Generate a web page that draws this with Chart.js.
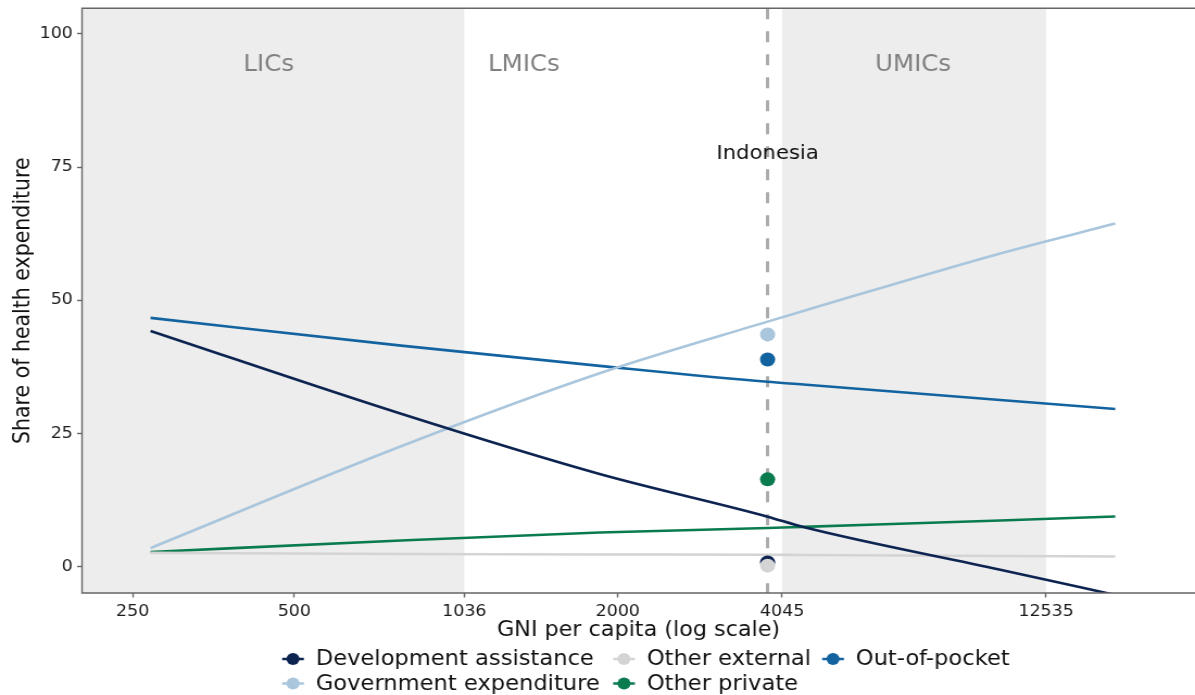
<!DOCTYPE html>
<html>
<head>
<meta charset="utf-8">
<script src="https://cdn.jsdelivr.net/npm/chart.js@4.4.1/dist/chart.umd.min.js"></script>
<style>
  html, body { margin: 0; padding: 0; background: #fff; overflow: hidden; }
  #wrap { width: 1100px; height: 695px; transform: scaleX(1.08636); transform-origin: 0 0; }
</style>
</head>
<body>
<div id="wrap"><canvas id="chart" width="1100" height="695"></canvas></div>
<script>
// Fitted health-financing shares along GNI per capita (US$, log scale)
const gniPoints = [270, 790, 1850, 3800, 4430, 10300, 16860];

const seriesNames = [
  'Development assistance',
  'Government expenditure',
  'Other external',
  'Other private',
  'Out-of-pocket'
];
const seriesColors = ['#0d2451', '#aac6dc', '#d4d4d4', '#0a7b4f', '#1363a0'];

const developmentAssistance = [44.25, 28.7, 17.4, 9.4, 7.45, -0.56, -5.3];
const governmentExpenditure = [3.5, 22.6, 36.3, 46.0, 48.0, 58.8, 64.4];
const otherExternal         = [2.6, 2.4, 2.3, 2.25, 2.2, 2.0, 1.93];
const otherPrivate          = [2.76, 4.93, 6.43, 7.26, 7.48, 8.68, 9.43];
const outOfPocket           = [46.7, 41.5, 37.7, 34.7, 34.2, 31.3, 29.6];
const fittedSeries = [developmentAssistance, governmentExpenditure, otherExternal, otherPrivate, outOfPocket];

// Indonesia
const countryName = 'Indonesia';
const countryGni = 3800;
const countryShares = [0.8, 43.6, 0.2, 16.4, 38.9];

// Axis ticks and income-group thresholds
const xTicks = [250, 500, 1036, 2000, 4045, 12535];
const yTicks = [0, 25, 50, 75, 100];
const incomeThresholds = [1036, 4045, 12535];
const groupLabels = ['LICs', 'LMICs', 'UMICs'];
const groupLabelGni = [448, 1337, 7090];

const FONT = "'DejaVu Sans', 'Liberation Sans', sans-serif";

const lineDatasets = seriesNames.map((name, i) => ({
  label: name,
  data: gniPoints.map((g, k) => ({ x: g, y: fittedSeries[i][k] })),
  borderColor: seriesColors[i],
  backgroundColor: seriesColors[i],
  borderWidth: 2.6,
  pointRadius: 0,
  cubicInterpolationMode: 'monotone',
  fill: false,
  order: 10 + i
}));

// grey point sits above the dark one where they overlap
const pointOrder = [2, 1, 0, 3, 4];
const pointDatasets = seriesNames.map((name, i) => ({
  label: name + ' (' + countryName + ')',
  data: [{ x: countryGni, y: countryShares[i] }],
  showLine: false,
  pointRadius: 7,
  pointHoverRadius: 7,
  pointBorderWidth: 0,
  pointBackgroundColor: seriesColors[i],
  borderColor: seriesColors[i],
  order: pointOrder[i]
}));

const panelPlugin = {
  id: 'panelDecor',
  beforeDatasetsDraw(chart) {
    const { ctx, chartArea: a, scales: { x } } = chart;
    ctx.save();
    // income-group bands
    ctx.fillStyle = '#ededed';
    const lic = x.getPixelForValue(incomeThresholds[0]);
    ctx.fillRect(a.left, a.top, lic - a.left, a.bottom - a.top);
    const u0 = x.getPixelForValue(incomeThresholds[1]);
    const u1 = x.getPixelForValue(incomeThresholds[2]);
    ctx.fillRect(u0, a.top, u1 - u0, a.bottom - a.top);

    // group names
    ctx.fillStyle = '#808080';
    ctx.font = '22.5px ' + FONT;
    ctx.textAlign = 'center';
    ctx.textBaseline = 'alphabetic';
    groupLabels.forEach((t, i) => ctx.fillText(t, x.getPixelForValue(groupLabelGni[i]), 70.7));

    // country marker line
    const cx = x.getPixelForValue(countryGni);
    ctx.strokeStyle = '#ababab';
    ctx.lineWidth = 3;
    ctx.setLineDash([11, 12]);
    ctx.beginPath();
    ctx.moveTo(cx, a.top);
    ctx.lineTo(cx, a.bottom);
    ctx.stroke();
    ctx.setLineDash([]);

    ctx.fillStyle = '#111';
    ctx.font = '19.5px ' + FONT;
    ctx.fillText(countryName, cx, 159.3);
    ctx.restore();
  },
  afterDraw(chart) {
    const { ctx, chartArea: a } = chart;
    ctx.save();
    // panel frame
    ctx.strokeStyle = '#666';
    ctx.lineWidth = 1.4;
    ctx.beginPath();
    ctx.moveTo(a.right, a.top);
    ctx.lineTo(a.left, a.top);
    ctx.lineTo(a.left, a.bottom);
    ctx.lineTo(a.right, a.bottom);
    ctx.stroke();

    // axis titles
    ctx.fillStyle = '#111';
    ctx.font = '20.5px ' + FONT;
    ctx.textAlign = 'center';
    ctx.textBaseline = 'alphabetic';
    ctx.fillText('GNI per capita (log scale)', (a.left + a.right) / 2, 636);
    ctx.save();
    ctx.translate(26.5, (a.top + a.bottom) / 2);
    ctx.rotate(-Math.PI / 2);
    ctx.fillText('Share of health expenditure', 0, 0);
    ctx.restore();

    // legend, filled column by column in two rows
    const colX = [269.7, 574.4, 766.8];
    const rowY = [659, 683.5];
    ctx.font = '20.8px ' + FONT;
    ctx.textAlign = 'left';
    ctx.textBaseline = 'middle';
    seriesNames.forEach((name, i) => {
      const mx = colX[Math.floor(i / 2)];
      const my = rowY[i % 2];
      ctx.strokeStyle = seriesColors[i];
      ctx.fillStyle = seriesColors[i];
      ctx.lineWidth = 2.5;
      ctx.beginPath();
      ctx.moveTo(mx - 10, my);
      ctx.lineTo(mx + 10, my);
      ctx.stroke();
      ctx.beginPath();
      ctx.arc(mx, my, 6, 0, Math.PI * 2);
      ctx.fill();
      ctx.fillStyle = '#111';
      ctx.fillText(name, mx + 21, my + 1);
    });
    ctx.restore();
  }
};

new Chart(document.getElementById('chart'), {
  type: 'line',
  data: { datasets: [...pointDatasets, ...lineDatasets] },
  options: {
    responsive: false,
    animation: false,
    devicePixelRatio: 1,
    layout: { autoPadding: false, padding: { top: 8.3, left: 0, right: 0, bottom: 0 } },
    plugins: { legend: { display: false }, tooltip: { enabled: false } },
    scales: {
      x: {
        type: 'logarithmic',
        min: 201.3,
        max: 23730,
        afterBuildTicks(scale) { scale.ticks = xTicks.map(v => ({ value: v })); },
        afterFit(scale) {
          scale.height = 102;
          scale.paddingLeft = 0; scale.paddingRight = 0;
          scale.paddingTop = 0; scale.paddingBottom = 0;
        },
        ticks: {
          color: '#1a1a1a',
          font: { family: FONT, size: 16 },
          padding: 5,
          maxRotation: 0,
          autoSkip: false,
          callback: (v) => String(v)
        },
        grid: { display: true, drawOnChartArea: false, drawTicks: true, tickLength: 4.5, tickColor: '#666', tickWidth: 1.4 },
        border: { display: false }
      },
      y: {
        type: 'linear',
        min: -4.93,
        max: 104.8,
        afterBuildTicks(scale) { scale.ticks = yTicks.map(v => ({ value: v })); },
        afterFit(scale) {
          scale.width = 75.5;
          scale.paddingLeft = 0; scale.paddingRight = 0;
          scale.paddingTop = 0; scale.paddingBottom = 0;
        },
        ticks: {
          color: '#1a1a1a',
          font: { family: FONT, size: 16 },
          padding: 4,
          callback: (v) => String(v)
        },
        grid: { display: true, drawOnChartArea: false, drawTicks: true, tickLength: 4.5, tickColor: '#666', tickWidth: 1.4 },
        border: { display: false }
      }
    }
  },
  plugins: [panelPlugin]
});
</script>
</body>
</html>
